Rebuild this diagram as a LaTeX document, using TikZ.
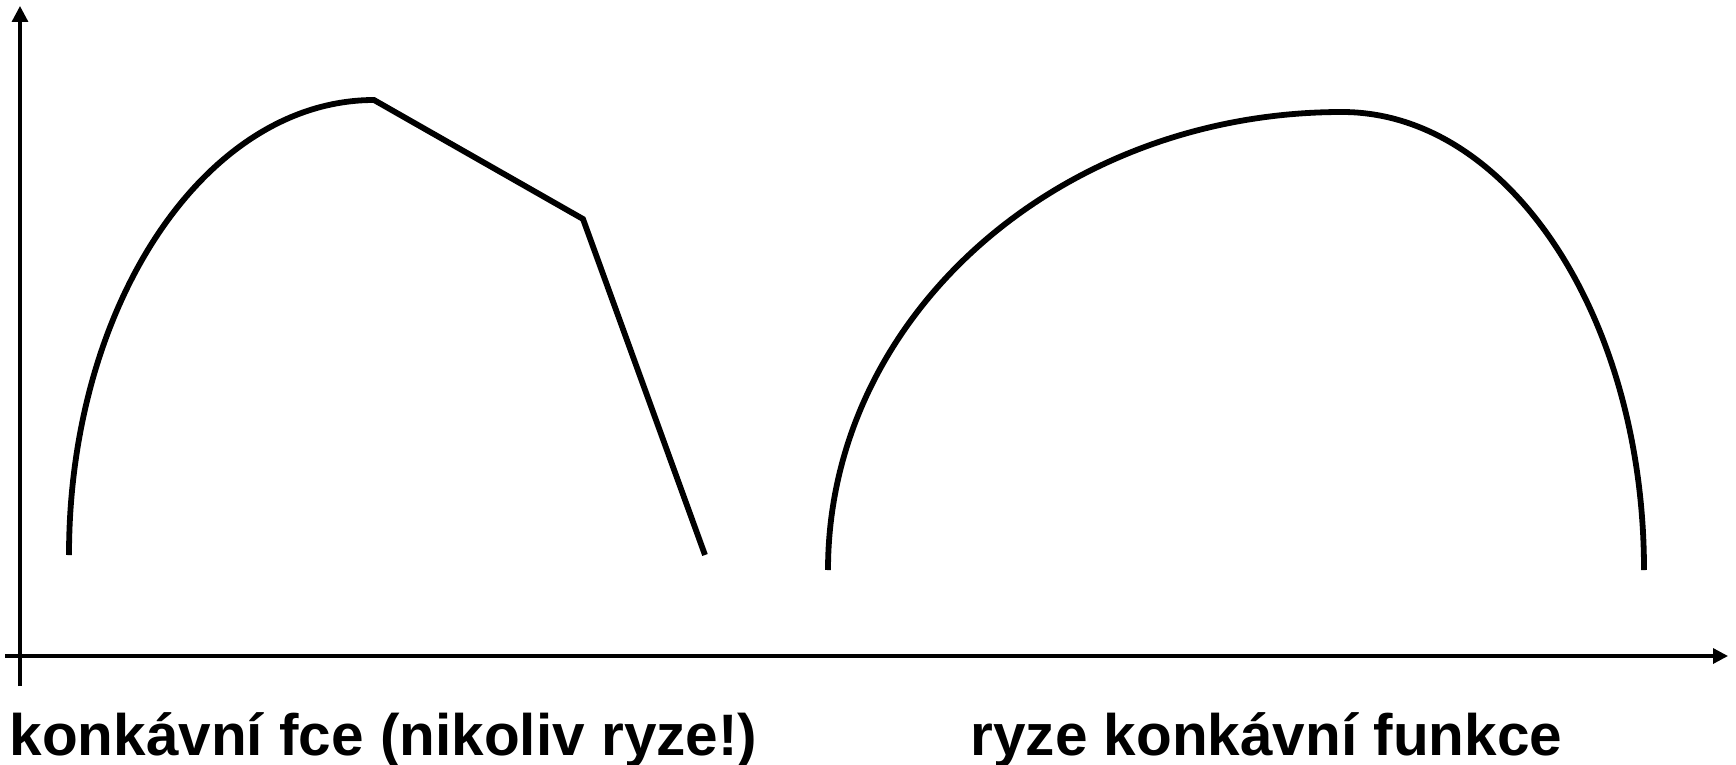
\documentclass[tikz,border=0pt]{standalone}
\usepackage{fontspec}
\setmainfont{Liberation Sans}
\usetikzlibrary{arrows.meta}
\tikzset{
  axisline/.style={line width=3.3pt, black},
  axisarrow/.style={-{Triangle[length=16pt,width=16pt]}},
  curveline/.style={line width=5.8pt, black, line join=miter},
  caption/.style={inner sep=0pt, anchor=base, font=\fontsize{58.5}{62}\selectfont\bfseries}
}
\begin{document}
\begin{tikzpicture}[x=1pt,y=-1pt]
\useasboundingbox (0,0) rectangle (1736,765);
% axes
\coordinate (ybot) at (20,686);
\coordinate (ytop) at (20,6);
\coordinate (xleft) at (5,656);
\coordinate (xright) at (1728,656);
\draw[axisline,axisarrow] (ybot) -- (ytop);
\draw[axisline,-{Triangle[length=15pt,width=15pt]}] (xleft) -- (xright);
% left function (concave, not strictly)
\coordinate (l0) at (69,555);
\coordinate (lpeak) at (374,100);
\coordinate (lkink) at (583,219);
\coordinate (lend) at (705,555);
\draw[curveline] (l0) .. controls (69,303.7) and (206,100) .. (lpeak) -- (lkink) -- (lend);
% right function (strictly concave)
\coordinate (r0) at (828,570);
\coordinate (rpeak) at (1342,112);
\coordinate (rend) at (1644,570);
\draw[curveline] (r0) .. controls (828,317) and (1058,112) .. (rpeak)
  .. controls (1509,112) and (1644,317) .. (rend);
% captions
\node[caption] (capl) at (383.5,755) {konkávní fce (nikoliv ryze!)};
\node[caption] (capr) at (1266.5,755) {ryze konkávní funkce};
\end{tikzpicture}
\end{document}
